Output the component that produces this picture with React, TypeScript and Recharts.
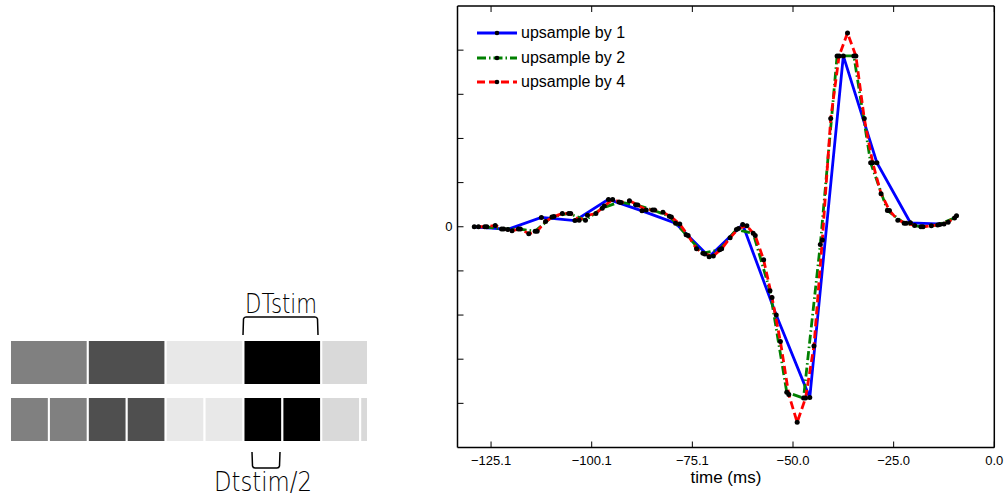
import React from "react";
import { LineChart, Line, XAxis, YAxis, Legend, BarChart, Bar, Cell } from "recharts";

const FONT = "'Liberation Sans', Arial, Helvetica, sans-serif";

// upsample by 1 (8.34 ms bins)
const timeUp1 = [-129.27, -120.93, -112.59, -104.25, -95.91, -87.57, -79.23, -70.89, -62.55, -54.21, -45.87, -37.53, -29.19, -20.85, -12.51];
const staUp1 = [0, -0.06, 0.21, 0.14, 0.62, 0.36, 0.08, -0.68, 0.05, -2.0, -3.87, 3.87, 1.45, 0.09, 0.06];

// upsample by 2 (4.17 ms bins)
const timeUp2 = [
  -126.65, -122.48, -118.31, -114.14, -109.97, -105.8, -101.63, -97.46, -93.29, -89.12,
  -84.95, -80.78, -76.61, -72.44, -68.27, -64.1, -59.93, -55.76, -51.59, -47.42,
  -43.25, -39.08, -34.91, -30.74, -26.57, -22.4, -18.23, -14.06, -9.89,
];
const staUp2 = [
  0, -0.05, -0.05, -0.1, 0.22, 0.3, 0.15, 0.42, 0.56, 0.5,
  0.38, 0.24, -0.18, -0.6, -0.52, -0.06, -0.15, -1.45, -3.75, -3.88,
  -0.4, 3.87, 3.87, 1.45, 0.37, 0.08, 0.0, 0.04, 0.2,
];

// upsample by 4 (2.085 ms bins)
const timeUp4 = [
  -128.23, -126.15, -124.06, -121.98, -119.89, -117.81, -115.72, -113.64, -111.55, -109.47,
  -107.38, -105.3, -103.21, -101.13, -99.04, -96.96, -94.87, -92.79, -90.7, -88.62,
  -86.53, -84.45, -82.36, -80.28, -78.19, -76.11, -74.02, -71.94, -69.85, -67.77,
  -65.68, -63.6, -61.51, -59.43, -57.34, -55.26, -53.17, -51.09, -49.0, -46.92,
  -44.83, -42.75, -40.66, -38.58, -36.49, -34.41, -32.32, -30.24, -28.15, -26.07,
  -23.98, -21.9, -19.81, -17.73, -15.64, -13.56, -11.47, -9.39,
];
const staUp4 = [
  0, 0, 0.03, -0.05, -0.09, -0.05, -0.16, -0.1, 0.12, 0.23,
  0.3, 0.3, 0.15, 0.26, 0.3, 0.47, 0.62, 0.55, 0.59, 0.49,
  0.38, 0.38, 0.33, 0.22, 0.06, -0.2, -0.5, -0.62, -0.66, -0.5,
  -0.25, -0.04, 0.02, -0.2, -0.75, -1.6, -2.6, -3.8, -4.43, -3.88,
  -2.7, -0.3, 2.45, 3.87, 4.39, 3.87, 2.45, 1.45, 0.75, 0.37,
  0.15, 0.08, 0.03, 0.0, 0.02, 0.05, 0.1, 0.25,
];

const xTicks = [-125.1, -100.08, -75.06, -50.04, -25.02, 0];
const yTicks = [-4, -3, -2, -1, 0, 1, 2, 3, 4];

// stimulus strip: durations (in DTstim) and luminance of each frame
const stripRows = ["DTstim", "DTstim/2"];
const stripDurations = [
  [1, 1, 1, 1, 0.6],
  [0.5, 0.5, 0.5, 0.5, 0.5, 0.5, 0.5, 0.5, 0.5, 0.1],
];
const stripLevels = [
  [0.5, 0.31, 0.91, 0, 0.85],
  [0.5, 0.5, 0.31, 0.31, 0.91, 0.91, 0, 0, 0.85, 0.85],
];

const series = [
  { name: "upsample by 1", color: "#0000ff", dash: undefined as string | undefined, time: timeUp1, vals: staUp1 },
  { name: "upsample by 2", color: "#008000", dash: "9 3 1.5 3", time: timeUp2, vals: staUp2 },
  { name: "upsample by 4", color: "#ff0000", dash: "8 4", time: timeUp4, vals: staUp4 },
];

const fmtTime = (v: number) => (v < 0 ? "\u2212" : "") + Math.abs(v).toFixed(1);

const blackDot = (p: any) => <circle key={`d${p.index}`} cx={p.cx} cy={p.cy} r={2.5} fill="#000" />;

function LegendBox() {
  return (
    <div style={{ fontFamily: FONT, fontSize: 16, color: "#000" }}>
      {series.map((s) => (
        <div key={s.name} style={{ display: "flex", alignItems: "center", height: 24.5 }}>
          <svg width={42} height={24} style={{ display: "block" }}>
            <line x1={1} x2={41} y1={12} y2={12} stroke={s.color} strokeWidth={2.8} strokeDasharray={s.dash} />
            <circle cx={21} cy={12} r={2.3} fill="#000" />
          </svg>
          <span style={{ marginLeft: 3, whiteSpace: "nowrap" }}>{s.name}</span>
        </div>
      ))}
    </div>
  );
}

function StaChart() {
  const axisLine = { stroke: "#000", strokeWidth: 1.5 };
  const tickLine = { stroke: "#000", strokeWidth: 1 };
  return (
    <div style={{ position: "absolute", left: 400, top: 0 }}>
      <LineChart width={605} height={502} margin={{ top: 5, right: 9.7, bottom: 0, left: 0 }} style={{ fontFamily: FONT }}>
        <XAxis
          xAxisId="b" dataKey="t" type="number" domain={[-133.44, 0]} allowDataOverflow
          ticks={xTicks} interval={0} tickFormatter={fmtTime} height={54.5}
          tickSize={-6} tickMargin={14} axisLine={axisLine} tickLine={tickLine}
          tick={{ fill: "#000", fontSize: 13 }}
          label={{ value: "time (ms)", position: "insideBottom", offset: 19, fill: "#000", fontSize: 17 }}
        />
        <XAxis
          xAxisId="t" orientation="top" dataKey="t" type="number" domain={[-133.44, 0]} allowDataOverflow
          ticks={xTicks} interval={0} tickFormatter={() => ""} height={1}
          tickSize={-6} axisLine={axisLine} tickLine={tickLine}
        />
        <YAxis
          yAxisId="l" type="number" domain={[-5, 5]} ticks={yTicks} interval={0} width={57.5}
          tickFormatter={(v: number) => (v === 0 ? "0" : "")}
          tickSize={-6} tickMargin={11} axisLine={axisLine} tickLine={tickLine}
          tick={{ fill: "#000", fontSize: 13 }}
        />
        <YAxis
          yAxisId="r" orientation="right" type="number" domain={[-5, 5]} ticks={yTicks} interval={0} width={1}
          tickFormatter={() => ""} tickSize={-6} axisLine={axisLine} tickLine={tickLine}
        />
        <Legend
          layout="horizontal" verticalAlign="middle" align="center"
          content={() => <LegendBox />}
          wrapperStyle={{ left: 76, top: 20.75, width: "auto" }}
        />
        {series.map((s) => (
          <Line
            key={s.name}
            xAxisId="b" yAxisId="l"
            data={s.time.map((t, i) => ({ t, v: s.vals[i] }))}
            dataKey="v" name={s.name} type="linear"
            stroke={s.color} strokeWidth={2.8} strokeDasharray={s.dash}
            dot={blackDot} activeDot={false}
            isAnimationActive={false}
          />
        ))}
      </LineChart>
    </div>
  );
}

const gray = (l: number) => {
  const c = Math.round(l * 255);
  return `rgb(${c},${c},${c})`;
};

function StimulusStrip() {
  const segKeys = Array.from({ length: 10 }, (_, i) => `s${i}`);
  const data = stripRows.map((row, r) => {
    const entry: Record<string, any> = { row };
    segKeys.forEach((k, i) => (entry[k] = stripDurations[r][i] ?? 0));
    return entry;
  });
  return (
    <>
      <div style={{ position: "absolute", left: 0, top: 334 }}>
        <BarChart width={380} height={114} data={data} layout="vertical" margin={{ top: 0, right: 12, bottom: 0, left: 10 }}>
          <XAxis type="number" domain={[0, 4.6]} hide />
          <YAxis type="category" dataKey="row" hide />
          {segKeys.map((k, i) => (
            <Bar key={k} dataKey={k} stackId="strip" barSize={45} stroke="#fff" strokeWidth={2} isAnimationActive={false}>
              {data.map((_, r) => (
                <Cell key={r} fill={stripLevels[r][i] === undefined ? "#fff" : gray(stripLevels[r][i])} />
              ))}
            </Bar>
          ))}
        </BarChart>
      </div>
      <svg width={400} height={502} style={{ position: "absolute", left: 0, top: 0, pointerEvents: "none" }}>
        <path d="M243 335 L243.5 319 Q244 317 246 317 L315 317 Q317 317 317.5 319 L318 335" fill="none" stroke="#000" strokeWidth={1.5} />
        <path d="M252 452 L252.5 466 Q253 468 255 468 L277 468 Q279 468 279.5 466 L280 452" fill="none" stroke="#000" strokeWidth={1.5} />
        <text x={281} y={313} textAnchor="middle" fontFamily="'DejaVu Sans', sans-serif" fontWeight={300} fontSize={26} textLength={72} lengthAdjust="spacingAndGlyphs">DTstim</text>
        <text x={263} y={491} textAnchor="middle" fontFamily="'DejaVu Sans', sans-serif" fontWeight={300} fontSize={26} textLength={98} lengthAdjust="spacingAndGlyphs">Dtstim/2</text>
      </svg>
    </>
  );
}

export default function App() {
  return (
    <div style={{ position: "relative", width: 1005, height: 502, background: "#fff", overflow: "hidden" }}>
      <style>{`body{margin:0}`}</style>
      <StimulusStrip />
      <StaChart />
    </div>
  );
}
